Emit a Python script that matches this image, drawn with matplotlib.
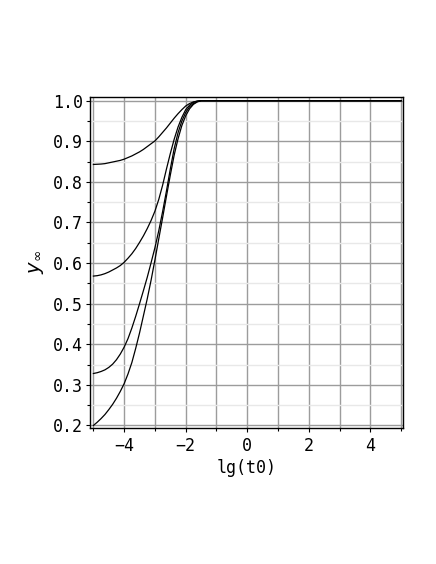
import matplotlib
matplotlib.use('Agg')
import matplotlib.pyplot as plt
from matplotlib.ticker import MultipleLocator

# lg(t0) positions
lg_t0 = [-5.0, -4.875, -4.75, -4.625, -4.5, -4.375, -4.25, -4.125,
         -4.0, -3.875, -3.75, -3.625,
         -3.5, -3.375, -3.25, -3.125, -3.0, -2.875, -2.75, -2.625,
         -2.5, -2.375, -2.25, -2.125, -2.0, -1.875, -1.75, -1.625, -1.5,
         5.0]

# y_inf for the four curves (top to bottom at lg(t0) = -5)
y_a = [0.843, 0.8435, 0.844, 0.845, 0.847, 0.849, 0.851, 0.853,
       0.856, 0.860, 0.864, 0.869,
       0.874, 0.880, 0.887, 0.894, 0.901, 0.911, 0.922, 0.933,
       0.945, 0.957, 0.968, 0.978, 0.987, 0.993, 0.997, 0.999, 1.0,
       1.0]
y_b = [0.568, 0.569, 0.571, 0.574, 0.578, 0.583, 0.588, 0.594,
       0.602, 0.612, 0.623, 0.636,
       0.651, 0.667, 0.685, 0.705, 0.728, 0.757, 0.792, 0.832,
       0.870, 0.905, 0.935, 0.959, 0.978, 0.989, 0.996, 0.999, 1.0,
       1.0]
y_c = [0.328, 0.330, 0.333, 0.337, 0.343, 0.351, 0.362, 0.376,
       0.393, 0.414, 0.440, 0.469,
       0.500, 0.532, 0.565, 0.601, 0.638, 0.680, 0.727, 0.778,
       0.832, 0.882, 0.921, 0.950, 0.971, 0.985, 0.993, 0.998, 1.0,
       1.0]
y_d = [0.200, 0.208, 0.217, 0.227, 0.239, 0.252, 0.267, 0.284,
       0.303, 0.327, 0.355, 0.390,
       0.428, 0.470, 0.512, 0.558, 0.608, 0.660, 0.712, 0.765,
       0.817, 0.866, 0.906, 0.939, 0.963, 0.980, 0.991, 0.997, 1.0,
       1.0]

plt.rcParams['font.family'] = 'DejaVu Sans Mono'
plt.rcParams['mathtext.fontset'] = 'dejavusans'

fig = plt.figure(figsize=(4.36, 5.64), dpi=100)
ax = fig.add_axes([90/436., 1 - 427.5/564., 313/436., 330.2/564.])

for ys in [y_a, y_b, y_c, y_d]:
    ax.plot(lg_t0, ys, color='black', lw=0.9, zorder=3)

ax.set_xlim(-5.11, 5.06)
ax.set_ylim(0.195, 1.0084)

ax.xaxis.set_major_locator(MultipleLocator(2))
ax.xaxis.set_minor_locator(MultipleLocator(1))
ax.yaxis.set_major_locator(MultipleLocator(0.1))
ax.yaxis.set_minor_locator(MultipleLocator(0.05))

ax.grid(which='major', color='#9c9c9c', lw=1.0, zorder=1)
ax.grid(which='minor', axis='x', color='#9c9c9c', lw=1.0, zorder=1)
ax.grid(which='minor', axis='y', color='#e8e8e8', lw=1.0, zorder=0)
ax.set_axisbelow(True)

ax.tick_params(which='major', direction='out', length=3.2, width=0.8, labelsize=12, pad=2)
ax.tick_params(axis='x', which='major', pad=3.5)
ax.tick_params(which='minor', direction='out', length=2.2, width=0.8)
for s in ax.spines.values():
    s.set_linewidth(1.0)

ax.set_xlabel('lg(t0)', fontsize=12, labelpad=3)
ax.set_ylabel(r'$y_\infty$', fontsize=14, labelpad=5)

fig.savefig('out.png', dpi=100)
